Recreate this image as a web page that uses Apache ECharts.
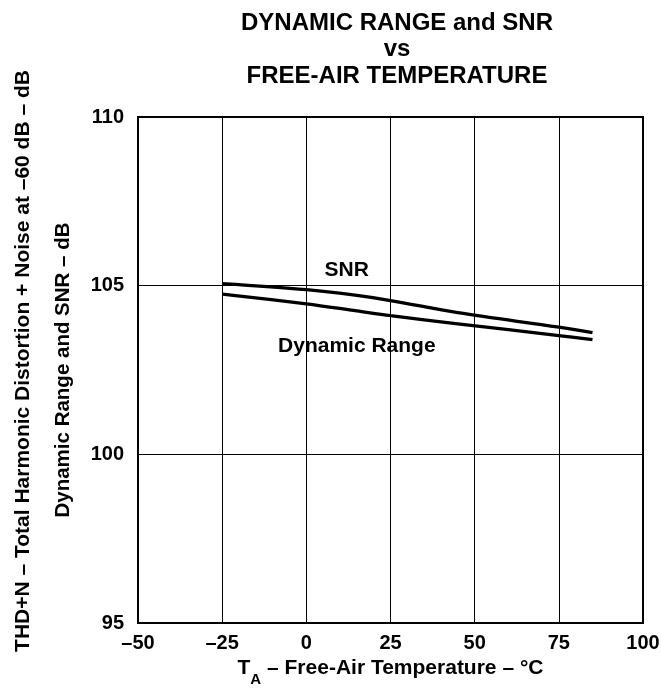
<!DOCTYPE html>
<html>
<head>
<meta charset="utf-8">
<script src="https://cdn.jsdelivr.net/npm/echarts@6/dist/echarts.min.js"></script>
<style>
html,body{margin:0;padding:0;background:#fff;}
#c{width:661px;height:689px;}
</style>
</head>
<body>
<div id="c"></div>
<script>
var temps = [-25, 0, 15, 25, 45, 75, 85];
var snr = [105.06, 104.88, 104.71, 104.56, 104.2, 103.77, 103.61];
var dynRange = [104.75, 104.46, 104.25, 104.11, 103.87, 103.52, 103.40];
var xTicks = [-50, 100, 25];
var yTicks = [95, 110, 5];
var labels = [
  {text: 'SNR', x: 12, y: 105.47},
  {text: 'Dynamic Range', x: 15, y: 103.22}
];

var FONT = '"Liberation Sans", Arial, sans-serif';
function pairs(xs, ys){ return xs.map(function(x,i){ return [x, ys[i]]; }); }

var chart = echarts.init(document.getElementById('c'));
chart.setOption({
  animation: false,
  backgroundColor: '#fff',
  title: {
    text: 'DYNAMIC RANGE and SNR\nvs\nFREE-AIR TEMPERATURE',
    left: 392, top: 5, textAlign: 'center',
    textStyle: {fontFamily: FONT, fontWeight: 'bold', fontSize: 24, lineHeight: 26.5, color: '#000'}
  },
  grid: {left: 138, right: 18, top: 117, bottom: 66, show: true, borderColor: '#000', borderWidth: 2,
         containLabel: false, outerBoundsMode: 'none'},
  xAxis: {
    type: 'value', min: xTicks[0], max: xTicks[1], interval: xTicks[2],
    axisLine: {show: false}, axisTick: {show: false},
    splitLine: {show: true, lineStyle: {color: '#000', width: 1}},
    axisLabel: {color: '#000', fontFamily: FONT, fontWeight: 'bold', fontSize: 20, margin: 10,
      formatter: function(v){ return v < 0 ? '\u2013' + Math.abs(v) : String(v); }},
    name: '{t|T}{s|A}{t| \u2013 Free-Air Temperature \u2013 \u00b0C}',
    nameLocation: 'middle', nameGap: 32,
    nameTextStyle: {rich: {
      t: {fontFamily: FONT, fontWeight: 'bold', fontSize: 21, color: '#000'},
      s: {fontFamily: FONT, fontWeight: 'bold', fontSize: 15, color: '#000', verticalAlign: 'bottom', padding: [0,0,-8,0]}
    }}
  },
  yAxis: {
    type: 'value', min: yTicks[0], max: yTicks[1], interval: yTicks[2],
    axisLine: {show: false}, axisTick: {show: false},
    splitLine: {show: true, lineStyle: {color: '#000', width: 1}},
    axisLabel: {color: '#000', fontFamily: FONT, fontWeight: 'bold', fontSize: 20, margin: 14},
    name: 'Dynamic Range and SNR \u2013 dB',
    nameLocation: 'middle', nameGap: 64, nameTextStyle: {fontFamily: FONT, fontWeight: 'bold', fontSize: 20.5, color: '#000'}
  },
  graphic: [{
    type: 'text', x: 23, y: 361, rotation: Math.PI/2,
    style: {text: 'THD+N \u2013 Total Harmonic Distortion + Noise at \u201360 dB \u2013 dB',
      font: 'bold 21px ' + FONT, fill: '#000', align: 'center', verticalAlign: 'middle'}
  }],
  series: [
    {type: 'line', name: 'SNR', data: pairs(temps, snr), smooth: 0.35, symbol: 'none',
     lineStyle: {color: '#000', width: 3.3},
     markPoint: {symbol: 'circle', symbolSize: 1, itemStyle: {color: 'rgba(0,0,0,0)'},
       label: {show: true, position: 'inside', color: '#000', fontFamily: FONT, fontWeight: 'bold', fontSize: 21,
       formatter: function(p){ return p.name; }},
       data: labels.map(function(l){ return {name: l.text, coord: [l.x, l.y]}; })}
    },
    {type: 'line', name: 'Dynamic Range', data: pairs(temps, dynRange), smooth: 0.35, symbol: 'none',
     lineStyle: {color: '#000', width: 3.3}}
  ]
});
</script>
</body>
</html>
